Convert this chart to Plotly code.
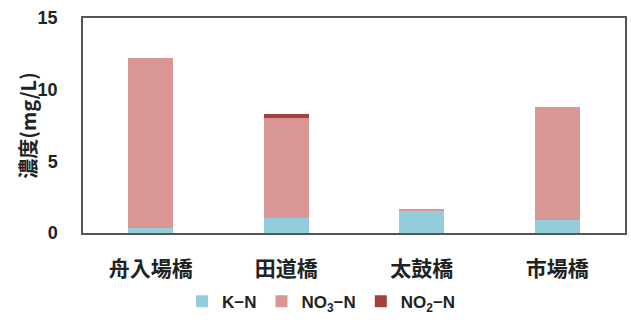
import plotly.graph_objects as go

categories = ["舟入場橋", "田道橋", "太鼓橋", "市場橋"]
k_n = [0.35, 1.08, 1.54, 0.90]
no3_n = [11.88, 6.92, 0.12, 7.92]
no2_n = [0.0, 0.27, 0.0, 0.0]
series_names = ["K−N", "NO<sub>3</sub>−N", "NO<sub>2</sub>−N"]
colors = ["#92CDDC", "#D99694", "#A5403F"]
y_ticks = [0, 5, 10, 15]
y_title = "濃度(mg/L)"

FONT = "Liberation Sans, Noto Sans CJK JP, sans-serif"

fig = go.Figure()
for name, vals, col in zip(series_names, [k_n, no3_n, no2_n], colors):
    fig.add_trace(go.Bar(x=categories, y=vals, name=name, marker_color=col,
                         marker_line_width=0))

fig.update_layout(
    barmode="stack",
    bargap=0.67,
    width=631, height=324,
    margin=dict(l=83, r=4, t=18, b=89),
    paper_bgcolor="white", plot_bgcolor="white",
    font=dict(family=FONT, color="#222222"),
    legend=dict(orientation="h", x=0.44, xanchor="center", y=-0.32, yanchor="middle",
                font=dict(size=17, family=FONT, weight="bold", color="#222222"), traceorder="normal",
                itemwidth=30, tracegroupgap=0),
    xaxis=dict(showline=True, linecolor="#555555", linewidth=1.5, mirror=True,
               ticks="", tickfont=dict(size=21, family="Noto Sans CJK JP", weight="bold", color="#222222"),
               ticklabelstandoff=16),
    yaxis=dict(range=[0, 15], tickvals=y_ticks, showgrid=False, zeroline=False,
               showline=True, linecolor="#555555", linewidth=1.5, mirror=True,
               ticks="", tickfont=dict(size=18, family=FONT, weight="bold", color="#222222"),
               ticklabelstandoff=20),
    annotations=[dict(text=y_title, xref="paper", yref="paper", x=-0.103, y=0.5,
                      xanchor="center", yanchor="middle", textangle=-90, showarrow=False,
                      font=dict(size=20, family="Noto Sans CJK JP", weight="bold", color="#222222"))],
)

fig.write_html("out.html")
